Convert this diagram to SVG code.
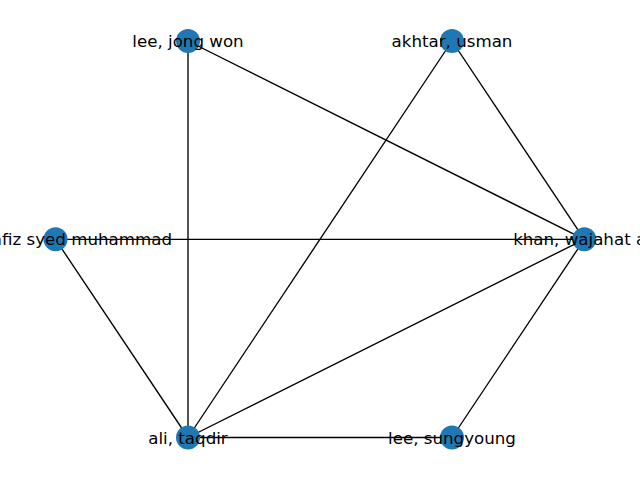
<svg xmlns="http://www.w3.org/2000/svg" width="640" height="480" viewBox="0 0 640 480">
<style>
.e{stroke:#000;stroke-width:1.35;fill:none}
.n{fill:#1f78b4}
.t{font-family:"DejaVu Sans",sans-serif;font-size:16.67px;fill:#000;text-anchor:middle}
</style>
<rect width="640" height="480" fill="#fff"/>
<g id="edges">
<line class="e" x1="188" y1="41" x2="584.3" y2="239.3"/>
<line class="e" x1="188" y1="41" x2="188" y2="437.5"/>
<line class="e" x1="452" y1="41" x2="584.3" y2="239.3"/>
<line class="e" x1="452" y1="41" x2="188" y2="437.5"/>
<line class="e" x1="55.5" y1="239.3" x2="584.3" y2="239.3"/>
<line class="e" x1="55.5" y1="239.3" x2="188" y2="437.5"/>
<line class="e" x1="584.3" y1="239.3" x2="188" y2="437.5"/>
<line class="e" x1="584.3" y1="239.3" x2="452" y2="437.5"/>
<line class="e" x1="188" y1="437.5" x2="452" y2="437.5"/>
</g>
<g id="khan"><circle class="n" cx="584.3" cy="239.3" r="12"/><text class="t" x="584.3" y="245.3">khan, wajahat ali</text></g>
<g id="akhtar"><circle class="n" cx="452" cy="41" r="12"/><text class="t" x="452" y="47">akhtar, usman</text></g>
<g id="lee_jong_won"><circle class="n" cx="188" cy="41" r="12"/><text class="t" x="188" y="47">lee, jong won</text></g>
<g id="hafiz"><circle class="n" cx="55.5" cy="239.3" r="12"/><text class="t" x="172" y="245.3" style="text-anchor:end">hafiz syed muhammad</text></g>
<g id="ali"><circle class="n" cx="188" cy="437.5" r="12"/><text class="t" x="188" y="443.5">ali, taqdir</text></g>
<g id="lee_sungyoung"><circle class="n" cx="452" cy="437.5" r="12"/><text class="t" x="452" y="443.5">lee, sungyoung</text></g>
</svg>
